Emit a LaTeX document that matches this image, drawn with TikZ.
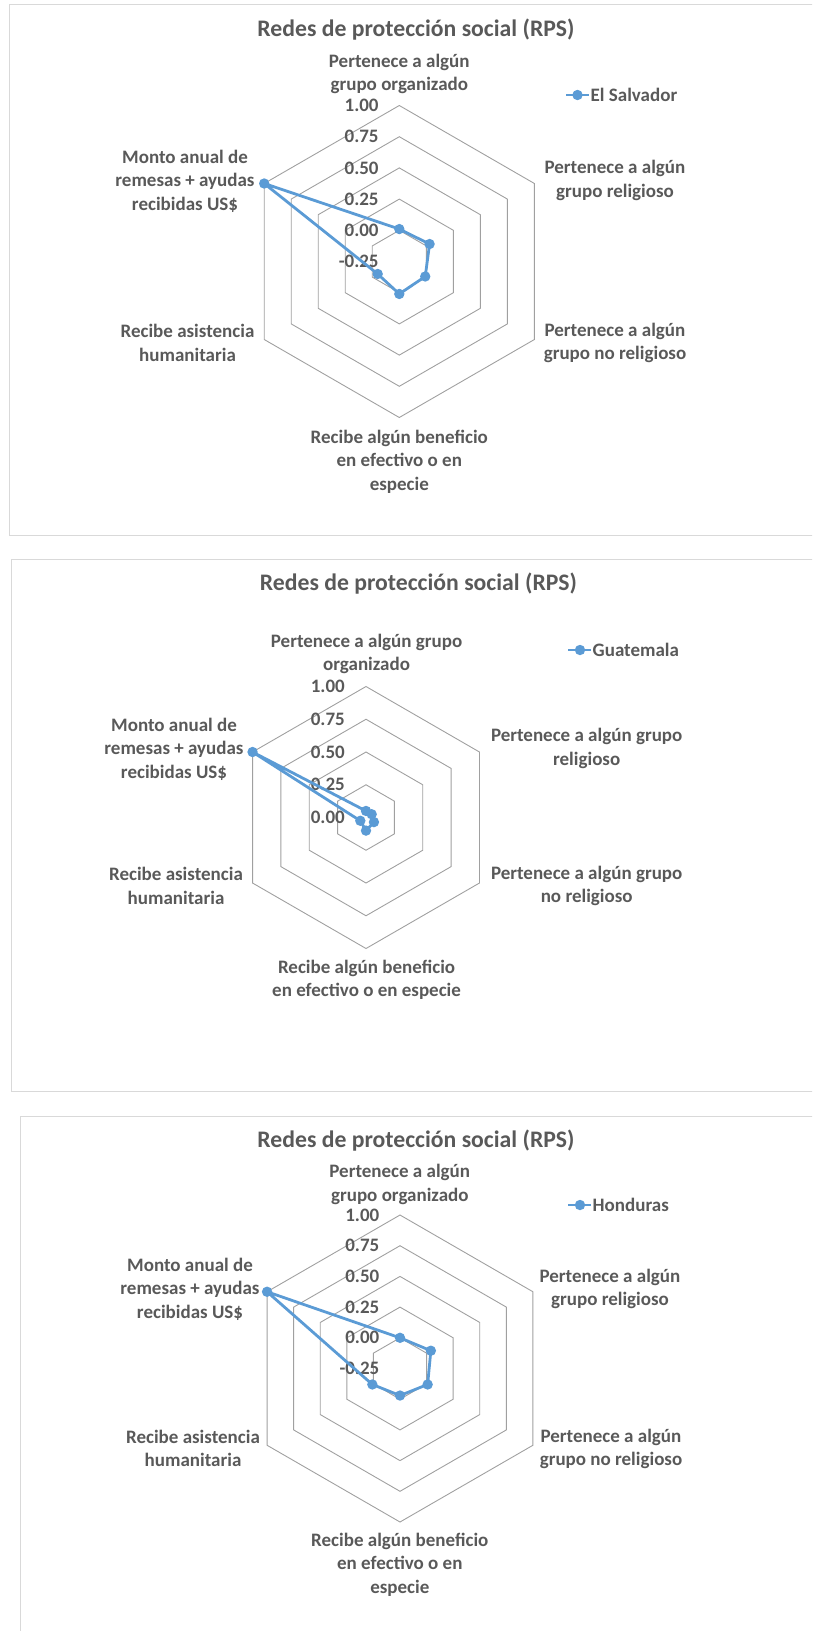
\documentclass[tikz,border=0pt]{standalone}
\usepackage{fontspec}
\setmainfont{Carlito}
\definecolor{txtgray}{HTML}{595959}
\definecolor{ringgray}{HTML}{A0A0A0}
\definecolor{framegray}{HTML}{D9D9D9}
\definecolor{seriesblue}{HTML}{5B9BD5}
\tikzset{
  ring/.style={draw=ringgray, line width=0.9pt, line join=miter},
  frame/.style={draw=framegray, line width=1pt},
  charttitle/.style={font=\fontsize{23.7}{29}\selectfont\bfseries, text=txtgray, inner sep=0pt},
  catlabel/.style={font=\fontsize{19}{23.5}\selectfont\bfseries, text=txtgray, align=center, inner sep=0pt},
  ticklabel/.style={font=\fontsize{19}{23}\selectfont\bfseries, text=txtgray, anchor=east, inner sep=0pt},
  legtext/.style={font=\fontsize{19}{23}\selectfont\bfseries, text=txtgray, anchor=west, inner sep=0pt},
  series/.style={draw=seriesblue, line width=2.8pt, line join=round},
  legline/.style={draw=seriesblue, line width=2.8pt},
}
% one hexagonal grid ring of radius #1 (axes: top, upper right, lower right, bottom, lower left, upper left)
\newcommand\hexring[1]{\draw[ring] (-90:#1) -- (-30:#1) -- (30:#1) -- (90:#1) -- (150:#1) -- (210:#1) -- cycle;}
\newcommand\seriesdots[1]{\foreach \p in {#1} \fill[seriesblue] (\p) circle[radius=5.2pt];}
\begin{document}
\begin{tikzpicture}[x=1pt,y=-1pt]
\useasboundingbox (0,0) rectangle (812,1631);
\clip (0,0) rectangle (812,1631);

% chart frames
\draw[frame] (9.3,4.5) rectangle (840,535);
\draw[frame] (11.4,559.3) rectangle (840,1091);
\draw[frame] (20,1116) rectangle (840,1660);

% ---------------- El Salvador ----------------
\node[charttitle] (t1) at (416,30) {Redes de protección social (RPS)};
\begin{scope}[shift={(399.3,261.5)}]
  \foreach \k in {1,...,5} {\hexring{\k*31.2}}
  \foreach \v [count=\k from 0] in {-0.25,0.00,0.25,0.50,0.75,1.00}
    \node[ticklabel] (s1t\k) at (-20.5,{-\k*31.2}) {\v};
  \coordinate (s1a) at (-90:{(0.01+0.25)*124.8});
  \coordinate (s1b) at (-30:{(0.03+0.25)*124.8});
  \coordinate (s1c) at (30:{(-0.01+0.25)*124.8});
  \coordinate (s1d) at (90:{(0.01+0.25)*124.8});
  \coordinate (s1e) at (150:{(-0.05+0.25)*124.8});
  \coordinate (s1f) at (210:{(1.00+0.25)*124.8});
  \draw[series] (s1a) -- (s1b) -- (s1c) -- (s1d) -- (s1e) -- (s1f) -- cycle;
  \seriesdots{s1a,s1b,s1c,s1d,s1e,s1f}
\end{scope}
\node[catlabel] (c1a) at (399.3,73.7) {Pertenece a algún\\grupo organizado};
\node[catlabel] (c1b) at (615,180.6) {Pertenece a algún\\grupo religioso};
\node[catlabel] (c1c) at (615,342.8) {Pertenece a algún\\grupo no religioso};
\node[catlabel] (c1d) at (399.3,461.8) {Recibe algún beneficio\\en efectivo o en\\especie};
\node[catlabel] (c1e) at (187.5,342.7) {Recibe asistencia\\humanitaria};
\node[catlabel] (c1f) at (185,181) {Monto anual de\\remesas + ayudas\\recibidas US\$};
\coordinate (g1a) at (566,95);
\coordinate (g1b) at (589,95);
\draw[legline] (g1a) -- (g1b);
\fill[seriesblue] (577.5,95) circle[radius=5.2pt];
\node[legtext] (g1) at (590.5,95) {El Salvador};

% ---------------- Guatemala ----------------
\node[charttitle] (t2) at (418.5,584) {Redes de protección social (RPS)};
\begin{scope}[shift={(366,817.5)}]
  \foreach \k in {1,...,4} {\hexring{\k*32.75}}
  \foreach \v [count=\k from 0] in {0.00,0.25,0.50,0.75,1.00}
    \node[ticklabel] (s2t\k) at (-21,{-\k*32.75}) {\v};
  \coordinate (s2a) at (-90:{0.05*131});
  \coordinate (s2b) at (-30:{0.05*131});
  \coordinate (s2c) at (30:{0.07*131});
  \coordinate (s2d) at (90:{0.10*131});
  \coordinate (s2e) at (150:{0.05*131});
  \coordinate (s2f) at (210:{1.00*131});
  \draw[series] (s2a) -- (s2b) -- (s2c) -- (s2d) -- (s2e) -- (s2f) -- cycle;
  \seriesdots{s2a,s2b,s2c,s2d,s2e,s2f}
\end{scope}
\node[catlabel] (c2a) at (366.6,654) {Pertenece a algún grupo\\organizado};
\node[catlabel] (c2b) at (586.7,748.4) {Pertenece a algún grupo\\religioso};
\node[catlabel] (c2c) at (586.7,886) {Pertenece a algún grupo\\no religioso};
\node[catlabel] (c2d) at (366.6,980) {Recibe algún beneficio\\en efectivo o en especie};
\node[catlabel] (c2e) at (176,886) {Recibe asistencia\\humanitaria};
\node[catlabel] (c2f) at (174,749.3) {Monto anual de\\remesas + ayudas\\recibidas US\$};
\coordinate (g2a) at (568,650);
\coordinate (g2b) at (591,650);
\draw[legline] (g2a) -- (g2b);
\fill[seriesblue] (580,650) circle[radius=5.2pt];
\node[legtext] (g2) at (592.5,650) {Guatemala};

% ---------------- Honduras ----------------
\node[charttitle] (t3) at (416,1141) {Redes de protección social (RPS)};
\begin{scope}[shift={(400,1368.5)}]
  \foreach \k in {1,...,5} {\hexring{\k*30.7}}
  \foreach \v [count=\k from 0] in {-0.25,0.00,0.25,0.50,0.75,1.00}
    \node[ticklabel] (s3t\k) at (-20.5,{-\k*30.7}) {\v};
  \coordinate (s3a) at (-90:{(0.00+0.25)*122.8});
  \coordinate (s3b) at (-30:{(0.04+0.25)*122.8});
  \coordinate (s3c) at (30:{(0.01+0.25)*122.8});
  \coordinate (s3d) at (90:{(-0.03+0.25)*122.8});
  \coordinate (s3e) at (150:{(0.01+0.25)*122.8});
  \coordinate (s3f) at (210:{(1.00+0.25)*122.8});
  \draw[series] (s3a) -- (s3b) -- (s3c) -- (s3d) -- (s3e) -- (s3f) -- cycle;
  \seriesdots{s3a,s3b,s3c,s3d,s3e,s3f}
\end{scope}
\node[catlabel] (c3a) at (399.8,1184.3) {Pertenece a algún\\grupo organizado};
\node[catlabel] (c3b) at (610,1288.7) {Pertenece a algún\\grupo religioso};
\node[catlabel] (c3c) at (611,1448.8) {Pertenece a algún\\grupo no religioso};
\node[catlabel] (c3d) at (399.8,1564.5) {Recibe algún beneficio\\en efectivo o en\\especie};
\node[catlabel] (c3e) at (193,1448.3) {Recibe asistencia\\humanitaria};
\node[catlabel] (c3f) at (190,1289.3) {Monto anual de\\remesas + ayudas\\recibidas US\$};
\coordinate (g3a) at (568,1205);
\coordinate (g3b) at (591,1205);
\draw[legline] (g3a) -- (g3b);
\fill[seriesblue] (580,1205) circle[radius=5.2pt];
\node[legtext] (g3) at (592.5,1205) {Honduras};
\end{tikzpicture}
\end{document}
